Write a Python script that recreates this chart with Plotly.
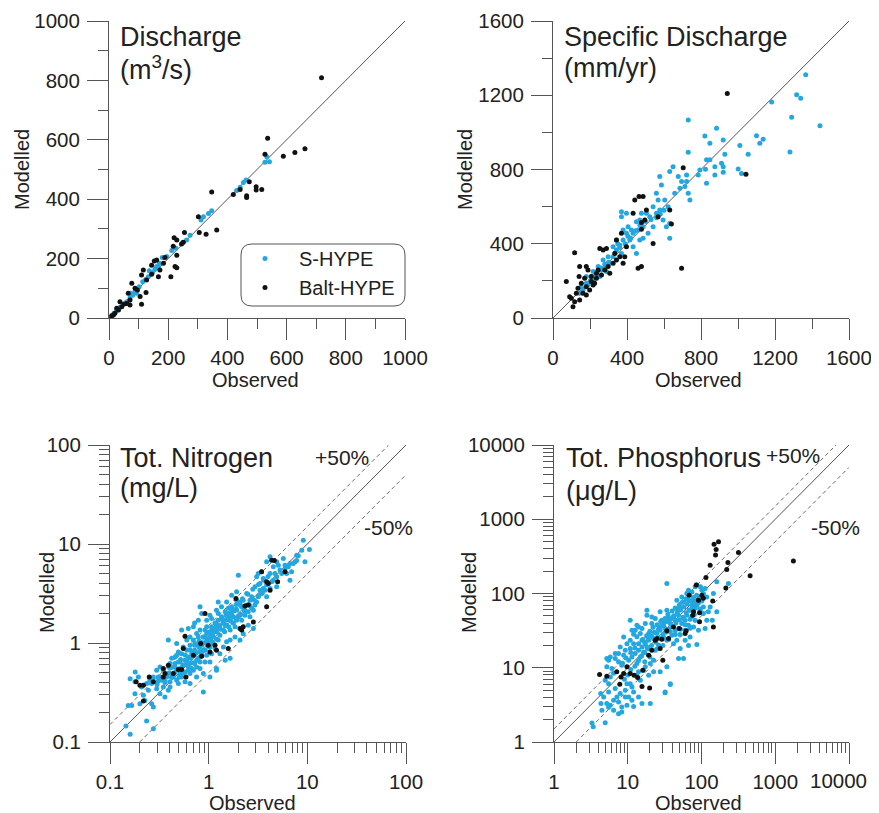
import math
import plotly.graph_objects as go

# ---------------- DATA (observed, modelled) ----------------
q_shype = [(533,543),(542,526),(527,524),(463,465),(454,456),(443,440),(431,429),(347,361),(336,352),
           (319,341),(311,330),(274,279),(262,263),(249,254),(226,235),(212,227),(195,207),(180,204),
           (170,184),(161,173),(155,164),(147,153),(133,139),(124,130),(114,122),(102,105),(88,89),(80,77),
           (71,68),(60,55),(48,46),(37,36),(26,25),(17,16),(10,9),(136,159),(167,173),(73,83),(93,83)]
q_balt = [(718,809),(536,605),(527,551),(589,545),(628,557),(662,570),(347,424),(420,416),(443,433),
          (465,412),(465,406),(474,459),(497,442),(497,431),(516,433),(302,341),(305,288),(328,282),
          (364,296),(255,288),(220,270),(229,263),(245,249),(251,255),(229,211),(223,173),(229,169),
          (209,139),(153,192),(161,195),(184,184),(172,162),(167,139),(116,162),(110,145),(127,128),
          (125,86),(105,72),(110,46),(88,100),(77,117),(65,83),(71,61),(60,49),(43,38),(32,27),(20,16),
          (15,10),(9,7),(37,55),(51,47),(26,33),(71,44),(96,94),(144,147),(189,204),(217,242),(144,178)]

sq_shype = [(1366,1311),(1317,1203),(1339,1184),(1182,1164),(1443,1036),(1290,1081),(1281,894),(731,1067),
            (884,1022),(821,981),(848,941),(920,959),(731,893),(929,882),(1010,929),(1100,982),(1118,941),
            (1136,963),(1055,882),(1001,803),(1019,779),(830,853),(848,853),(824,801),(875,815),(911,833),
            (920,815),(920,785),(875,771),(830,726),(794,797),(785,771),(722,771),(722,735),(713,708),
            (731,672),(740,636),(649,815),(631,789),(577,762),(586,717),(604,636),(622,600),(677,762),
            (695,735),(686,699),(658,672),(559,672),(568,636),(541,600),(505,564),(478,564),(469,528),
            (451,519),(397,564),(370,546),(460,474),(487,492),(523,546),(559,564),(577,582),(595,528),
            (613,492),(631,510),(631,429),(541,492),(514,456),(487,429),(433,456),(415,420),(397,456),
            (379,420),(361,393),(343,366),(325,330),(307,295),(285,277),(262,259),(235,241),(207,223),
            (180,187),(162,151),(144,133),(343,420),(325,384),(370,348),(433,384),(469,420),(451,348),
            (298,330),(271,312),(244,277),(217,250),(253,223),(289,250),(217,205),(180,223),(153,169),
            (379,474),(406,492),(424,474),(370,573),(390,400),(405,440),(420,430),(445,470),(470,500),
            (500,520),(530,530),(560,540),(580,560),(600,580),(360,380),(350,400),(335,350),(300,300),
            (280,290),(260,270),(240,250),(230,230),(200,200),(190,180)]
sq_balt = [(942,1210),(704,810),(1043,774),(695,268),(478,514),(487,654),(465,654),(442,636),(433,564),
           (505,582),(496,528),(541,402),(631,582),(640,506),(568,546),(478,478),(460,268),(478,277),
           (370,456),(343,420),(289,375),(253,375),(271,366),(117,352),(72,196),(99,106),(108,61),(90,115),
           (144,277),(141,223),(180,277),(189,259),(207,223),(235,241),(225,187),(180,169),(162,133),
           (144,97),(126,133),(135,160),(153,187),(171,214),(207,196),(244,259),(262,232),(280,259),
           (298,277),(307,241),(325,295),(343,312),(361,330),(379,295),(388,330),(334,348),(397,384),
           (198,151),(117,88),(180,124),(217,178),(235,214)]

tn_shype = [(0.16,0.12),(0.145,0.145),(0.235,0.163),(0.275,0.136),(0.264,0.244),(0.275,0.226),(0.16,0.436),
            (0.179,0.405),(0.194,0.454),(0.209,0.36),(0.218,0.296),(0.201,0.244),(0.226,0.263),(0.166,0.234),
            (0.179,0.308),(0.245,0.333),(0.264,0.389),(0.297,0.346),(0.321,0.308),(0.347,0.36),(0.361,0.41),
            (0.321,0.454),(0.39,0.491),(0.438,0.454),(0.406,0.405),(0.474,0.42),(0.512,0.491),(0.39,0.333),
            (0.36,0.285),(0.306,0.41),(0.4,0.565),(0.456,0.573),(0.512,0.644),(0.532,0.565),(0.576,0.67),
            (0.647,0.62),(0.622,0.72),(0.7,0.75),(0.532,0.454),(0.647,0.491),(0.7,0.531),(0.576,0.405),
            (0.883,0.32),(0.817,0.552),(0.72,0.62),(0.755,0.67),(0.817,0.72),(0.918,0.644),(1.03,0.644),
            (1.2,0.552),(0.6,0.845),(0.553,0.913),(0.493,0.813),(0.532,1.35),(0.39,1.07),(0.647,1.15),
            (0.726,0.99),(0.81,0.913),(0.817,0.813),(0.918,0.845),(0.99,0.948),(1.03,1.07),(1.07,0.78),
            (1.16,0.879),(1.3,0.78),(1.41,0.913),(1.52,1.03),(1.47,0.67),(1.65,0.7),(1.25,1.07),(1.11,1.15),
            (0.918,1.15),(0.817,1.35),(0.955,1.46),(0.785,1.7),(0.849,1.99),(0.817,2.32),(1.07,1.77),
            (1.2,2.14),(1.25,2.6),(1.11,1.35),(1.2,1.46),(1.41,1.35),(1.52,1.51),(1.65,1.35),(1.85,1.46),
            (1.41,1.7),(1.58,1.99),(1.78,1.84),(1.71,2.32),(1.92,2.14),(2.08,1.91),(2.16,2.32),(1.92,3.29),
            (2.0,4.84),(1.71,3.04),(2.24,2.7),(2.43,3.16),(2.73,2.93),(2.33,2.14),(2.62,1.84),(2.84,2.14),
            (3.06,2.6),(2.95,3.69),(3.31,3.99),(3.06,4.66),(3.58,4.48),(3.72,3.42),(4.19,3.55),(3.87,2.93),
            (4.35,4.15),(4.7,5.04),(5.08,6.11),(4.52,5.9),(5.28,5.45),(5.94,6.11),(6.18,5.04),(5.71,7.14),
            (6.67,6.36),(6.93,5.24),(6.67,4.3),(7.5,6.6),(7.8,7.7),(8.78,8.67),(9.1,10.9),(10.5,8.8),
            (9.46,6.6),(7.8,6.8),(4.19,7.43),(4.89,6.6),(3.87,6.6),(4.19,5.04),(3.44,5.24),(3.18,5.04),
            (1.92,2.7),(1.52,2.6),(2.43,2.42),(2.52,1.51),(2.84,1.4),(2.24,1.24),(2.08,1.07),(1.85,1.15),
            (1.65,1.07),(0.883,0.491),(1.03,0.454),(1.2,0.531),(0.755,1.25),(0.7,1.46),(0.6,1.07),
            (0.474,0.99),(0.456,0.72),(0.406,0.62),(0.347,0.531),(0.321,0.573),(0.297,0.531),(0.275,0.454),
            (0.254,0.42),(0.235,0.389),(0.18,0.51),(0.153,0.234),
            (0.6,0.67),(0.673,0.78),(0.72,0.845),(0.767,0.948),(0.849,1.01),(0.883,1.15),(0.955,1.25),
            (1.03,1.3),(1.07,1.46),(1.16,1.59),(1.25,1.7),(1.35,1.84),(1.47,2.07),(1.58,2.24),(1.65,1.7),
            (1.78,1.59),(1.92,1.7),(2.0,1.84),(2.16,1.7),(2.33,1.91),(2.52,2.07),(2.73,2.24),(2.95,2.42),
            (3.18,2.93),(3.44,3.16),(3.58,3.55),(3.87,3.87),(4.52,4.3),(4.89,4.66),(5.5,5.04),(5.94,5.65),
            (6.41,5.89),(7.2,6.36),(8.1,7.6),(4.89,3.7),(3.31,3.42),(2.62,2.7),(2.08,2.6),(1.71,2.07),
            (1.47,1.51),(1.3,1.4),(1.2,1.3),(1.11,0.99),(1.03,0.913),(0.955,0.75),(0.883,0.845),(0.817,0.644),
            (0.755,0.573),(0.673,0.552),(0.622,0.531),(0.576,0.51),(0.493,0.644),(0.456,0.62),(0.42,0.565),
            (0.422,0.7),(0.474,0.75),(0.532,0.78),(0.647,0.948),(0.7,1.07),(0.622,1.4),(0.72,1.59),
            (0.955,1.7),(1.03,1.91),(1.35,2.32),(1.25,1.99),(0.918,1.35),(0.785,1.15),(0.406,0.36),
            (0.474,0.531),(0.375,0.454),(0.309,0.454),(0.493,0.389),(0.755,0.454),(0.647,0.389),
            (0.45,0.5),(0.5,0.55),(0.55,0.6),(0.6,0.62),(0.65,0.7),(0.7,0.78),(0.75,0.8),(0.8,0.9),
            (0.85,0.95),(0.9,1.0),(0.95,1.05),(1.0,1.12),(1.05,1.2),(1.1,1.25),(1.2,1.35),(1.3,1.5),
            (1.4,1.6),(1.5,1.7),(1.6,1.85),(1.7,1.95),(1.8,2.1),(1.9,2.2),(2.1,2.4),(0.5,0.45),(0.55,0.5),
            (0.62,0.58),(0.7,0.63),(0.78,0.7),(0.85,0.78),(0.92,0.85),(1.0,0.92),(1.1,1.02),(1.2,1.1),
            (1.3,1.2),(1.45,1.3),(1.6,1.45),(1.75,1.6),(1.9,1.75),(2.1,1.95),(2.3,2.1),(2.6,2.4),(2.9,2.7),
            (3.2,3.0),(3.5,3.2),(0.4,0.5),(0.45,0.58),(0.52,0.68),(0.58,0.75),(0.65,0.85),(0.72,0.95),
            (0.8,1.05),(0.88,1.15),(0.98,1.28),(1.08,1.4),(1.2,1.55),(1.35,1.75),(1.5,1.9),(1.7,2.2),
            (1.9,2.45),(2.2,2.8),(2.5,3.1),(2.8,3.5),(3.2,3.9),(3.6,4.3),(4.0,4.7),(0.3,0.38),(0.33,0.42),
            (0.36,0.4),(0.42,0.45)]
tn_balt = [(0.184,0.405),(0.201,0.374),(0.218,0.374),(0.218,0.26),(0.25,0.454),(0.275,0.405),(0.347,0.552),
           (0.361,0.491),(0.347,0.454),(0.39,0.596),(0.438,0.491),(0.493,0.539),(0.532,0.539),(0.576,1.17),
           (0.553,0.879),(0.589,0.454),(0.7,0.75),(0.83,0.99),(0.849,0.735),(0.99,0.948),(1.03,0.813),
           (1.2,0.845),(1.16,0.948),(1.58,0.879),(0.918,1.99),(1.89,2.82),(2.33,2.36),(2.52,2.42),(2.08,1.4),
           (2.16,1.35),(2.24,1.46),(2.84,1.63),(3.44,5.24),(3.87,2.32),(4.19,3.42),(4.03,3.99),(3.87,4.15),
           (4.35,6.87),(4.62,6.8),(5.0,4.15),(5.94,5.24)]

tp_shype = [(3.27,1.8),(3.4,1.6),(4.95,1.82),(4.33,3.29),(5.2,3.3),(5.8,3.12),(4.71,4.04),(5.5,4.72),
            (6.43,3.65),(7.13,4.04),(7.5,3.46),(8.3,2.96),(9.75,3.12),(10.3,4.04),(11.4,3.65),(12,4.72),
            (14,4.04),(20.2,3.29),(32.2,4.72),(37.7,5.93),(5.5,6.1),(4.95,6.78),(5.8,7.5),(6.43,8.4),
            (6.1,9.75),(5.2,10.3),(5.5,12.6),(6.76,13.3),(7.5,12),(8.3,10.8),(8.8,14.7),(7.5,15.5),(9.25,17.2),
            (10.8,18.1),(10.8,23.4),(12,21),(13.3,26.1),(10.8,43.7),(12.6,32),(15.6,33.7),(14.8,29),
            (17.3,39.4),(18.2,51),(19.2,23.4),(18.2,19),(16.4,16.3),(14.8,14),(13.3,11.4),(17.3,10.3),
            (20.2,11.4),(22.4,12.6),(23.6,17.2),(26.2,20.1),(24.9,28.9),(21.2,39.4),(23.6,46),(27.5,56.6),
            (29,43.6),(33.9,59.6),(35.7,48.4),(37.7,39.4),(32.2,33.7),(30.5,26),(33.9,23.5),(39.6,27.4),
            (41.7,21),(46.3,23.5),(43.9,31.6),(48.8,33.7),(43.9,43.6),(48.8,51),(54,39.4),(57,46),(51,28),
            (60,32),(66.7,37.4),(63.5,51),(70.2,59.6),(74,69.6),(66.7,81),(78,81),(63.2,100),(66.7,111),
            (74,105),(82,123),(86.5,130),(97,123),(101,111),(106,100),(112,117),(118,90),(97,86),(86.5,70),
            (96,59.6),(106,53.7),(124,56.6),(131,66),(118,43.6),(112,33.7),(91,32),(78,35.5),(82,43.6),
            (70,26),(60,23.5),(51.4,18.1),(66.7,20),(86.5,20.5),(48.8,13.3),(57,13.3),(33.9,10.3),(37.7,6.1),
            (32,4.6),(232,136),(161,144),(161,56.6),(145,100),(33.9,136),(21.2,48.4),(18.2,59.6),(14,35.5),
            (12,28.3),(9.75,21),(8.8,26),(7.9,19),(6.76,15.5),(5.8,14),(5.2,13.3),(11.4,32),(13.3,37.4),
            (15.6,23.4),(17.3,21),(19.2,28.9),(22.4,24.7),(27.5,32),(30.5,37.4),(37.7,30.5),(41.7,48.4),
            (46.3,62),(51,66),(57,77),(54,90),(46.3,81),(74,49),(82,64),(91,75),(101,79),(106,66),(140,43.6),
            (70,34),(60,43.6),(13.3,7.9),(14.8,6.8),(10.8,6.1),(9.25,4.97),(7.9,4.5),(6.76,5.25),(4.3,4.5),
            (4.47,2.67),(5.5,2.94),(6.43,2.67),(7.5,2.41),(8.3,2.54),(9.25,4.04),(12,3.0),(15.6,3.3),
            (9.75,6.1),(11.4,5.5),(14,8.8),(19.2,7.9),(22.4,8.8),(27.5,8.8),(16.4,9.25),
            (10.3,12.6),(11.4,14),(12.6,15.5),(14,17.2),(15.6,19.1),(17,22),(19,25),(21,27),(23,30),(26,33),
            (28,36),(31,40),(34,42),(38,45),(42,50),(47,55),(52,60),(58,66),(64,72),(71,80),(78,88),(86,95),
            (11,9.5),(12.5,10.5),(14,12.5),(15.5,14.5),(17,16),(19,18),(21,20),(24,22),(27,25),(30,28),
            (33,30),(36,33),(40,36),(45,40),(50,44),(56,48),(62,55),(68,60),(75,66),(83,73),(92,80),
            (8.5,11.5),(9.5,13.5),(11,16),(12.5,18.5),(14,21),(16,24),(18,27),(20,31),(22,35),(25,38),
            (28,42),(32,46),(35,52),(40,58),(44,64),(50,70),(55,76),(62,85),(9,7),(10,8),(17,12),(20,14),
            (25,18),(30,20),(36,24),(44,28),(52,33),(60,38),(70,45),(80,52),(95,62)]
tp_balt = [(148,462),(170,497),(158,392),(155,329),(317,357),(228,262),(220,211),(131,241),(1762,273),
           (456,173),(214,119),(115,164),(85,130),(68,95),(101,95),(106,86),(91,81),(142,79),(145,35.5),
           (94,41.5),(94,55),(78,57),(76,51),(60,28.9),(62,31.4),(50,33.7),(41.7,35.5),(33.9,31.4),
           (35.7,24.7),(29,24.2),(24.9,24.7),(23.6,23.5),(27.5,18.1),(29.9,12.6),(19.2,14.7),(21.2,17.2),
           (16,9.25),(12.2,7.9),(10.8,8.35),(8.8,8.35),(8.1,7.5),(7.1,8.8),(5.2,7.7),(4.15,8.1),(7.8,6.0),
           (15.6,5.6),(19.8,5.35),(9.75,10.3),(13.6,7.4)]

series_names = ["S-HYPE", "Balt-HYPE"]
panel_titles = [("Discharge", "(m<sup>3</sup>/s)"), ("Specific Discharge", "(mm/yr)"),
                ("Tot. Nitrogen", "(mg/L)"), ("Tot. Phosphorus", "(\u03bcg/L)")]
lin_ranges = [(0, 1000), (0, 1600)]
log_ranges = [(0.1, 100), (1, 10000)]
tp_x_ticks = [1, 10, 100, 1000, 10000]
tp_x_labels = ["1", "10", "100", "1000", "10000"]
band_factors = [1.5, 0.5]
band_labels = ["+50%", "-50%"]

# ---------------- STYLE ----------------
OFF = 8                      # page body margin offset
W, H = 879 - OFF, 813 - OFF
CYAN = "#22A7E0"
BLACK = "#111111"
AX = "#555555"
FONT = "Liberation Sans, Arial, sans-serif"
TICKSIZE = 20.5

def px(x):
    return (x - OFF) / W

def py(y):
    return 1 - (y - OFF) / H

fig = go.Figure()

panels = [
    dict(x=(109, 405), y=(21, 318)),
    dict(x=(553, 849), y=(21, 318)),
    dict(x=(110, 406), y=(445, 742)),
    dict(x=(554, 849), y=(445, 742)),
]
datasets = [(q_shype, q_balt), (sq_shype, sq_balt), (tn_shype, tn_balt), (tp_shype, tp_balt)]

for i, (shy, bal) in enumerate(datasets):
    k = i + 1
    xa = "x" if k == 1 else f"x{k}"
    ya = "y" if k == 1 else f"y{k}"
    if i < 2:
        lo, hi = lin_ranges[i]
    else:
        lo, hi = log_ranges[i - 2]
    fig.add_trace(go.Scatter(x=[lo, hi], y=[lo, hi], mode="lines", xaxis=xa, yaxis=ya,
                             line=dict(color="#555555", width=1), showlegend=False, hoverinfo="skip"))
    if i >= 2:
        for f in band_factors:
            xs = [lo, hi / f] if f > 1 else [lo / f, hi]
            fig.add_trace(go.Scatter(x=xs, y=[v * f for v in xs], mode="lines", xaxis=xa, yaxis=ya,
                                     line=dict(color="#6a6a6a", width=1, dash="4px,3px"),
                                     showlegend=False, hoverinfo="skip"))
    for name, pts, col in [(series_names[0], shy, CYAN), (series_names[1], bal, BLACK)]:
        fig.add_trace(go.Scatter(x=[p[0] for p in pts], y=[p[1] for p in pts], mode="markers",
                                 xaxis=xa, yaxis=ya, name=name, legendgroup=name,
                                 showlegend=(i == 0), cliponaxis=False,
                                 marker=dict(color=col, size=5, line=dict(width=0))))

tickfont = dict(family=FONT, size=TICKSIZE, color="#222222")
common = dict(showline=True, linecolor=AX, linewidth=1, ticks="outside", tickcolor=AX, tickwidth=1,
              ticklen=21, showgrid=False, zeroline=False, tickfont=tickfont, fixedrange=True,
              automargin=False, ticklabeloverflow="allow")

layout = dict(width=W, height=H, margin=dict(l=0, r=0, t=0, b=0, autoexpand=False),
              paper_bgcolor="white", plot_bgcolor="white", showlegend=True)
for i, p in enumerate(panels):
    k = i + 1
    xk = "xaxis" if k == 1 else f"xaxis{k}"
    yk = "yaxis" if k == 1 else f"yaxis{k}"
    xa = "x" if k == 1 else f"x{k}"
    ya = "y" if k == 1 else f"y{k}"
    xd = [px(p["x"][0]), px(p["x"][1])]
    yd = [py(p["y"][1]), py(p["y"][0])]
    if i < 2:
        lo, hi = lin_ranges[i]
        step = 200 if i == 0 else 400
        ax = dict(common, type="linear", range=[lo, hi], dtick=step, tick0=0,
                  minor=dict(dtick=step / 2, ticks="outside", ticklen=10, tickcolor=AX, showgrid=False))
    else:
        lo, hi = log_ranges[i - 2]
        ax = dict(common, type="log", range=[math.log10(lo), math.log10(hi)], dtick=1, tickformat="~g",
                  minor=dict(dtick="D1", ticks="outside", ticklen=10, tickcolor=AX, showgrid=False))
    layout[xk] = dict(ax, domain=xd, anchor=ya, ticklabelstandoff=0)
    layout[yk] = dict(ax, domain=yd, anchor=xa, ticklabelstandoff=3)

# last x label of the phosphorus panel is drawn as an annotation so it stays inside the page
layout["xaxis4"]["tickmode"] = "array"
layout["xaxis4"]["tickvals"] = tp_x_ticks
layout["xaxis4"]["ticktext"] = tp_x_labels[:-1] + [""]

fig.update_layout(**layout)

ann = []
def text(x, y, s, size, xanchor="center", angle=0):
    ann.append(dict(x=px(x), y=py(y), xref="paper", yref="paper", text=s, showarrow=False,
                    xanchor=xanchor, yanchor="middle", textangle=angle,
                    font=dict(family=FONT, size=size, color="#222222")))

title_pos = [(118, 37, 68), (562, 37, 68), (118, 458, 488), (564, 458, 491)]
for (t1, t2), (x, y1, y2) in zip(panel_titles, title_pos):
    text(x, y1, t1, 27, "left")
    text(x, y2, t2, 27, "left")

for (x, y) in [(22, 170), (465, 170), (47, 593), (469, 593)]:
    text(x, y, "Modelled", 20, angle=-90)
for (x, y) in [(255, 380), (698, 380), (253, 803), (698, 803)]:
    text(x, y, "Observed", 20)
for (x, y, s) in [(342, 457, band_labels[0]), (388, 527, band_labels[1]),
                  (793, 455, band_labels[0]), (835, 527, band_labels[1])]:
    text(x, y, s, 21)
# "10000" under the phosphorus x axis
text(869, 780, tp_x_labels[-1], TICKSIZE, "right")

# rounded legend box
x0, x1, y0, y1, r = 241, 405, 244, 306, 11
path = (f"M {px(x0+r)},{py(y0)} L {px(x1-r)},{py(y0)} Q {px(x1)},{py(y0)} {px(x1)},{py(y0+r)} "
        f"L {px(x1)},{py(y1-r)} Q {px(x1)},{py(y1)} {px(x1-r)},{py(y1)} "
        f"L {px(x0+r)},{py(y1)} Q {px(x0)},{py(y1)} {px(x0)},{py(y1-r)} "
        f"L {px(x0)},{py(y0+r)} Q {px(x0)},{py(y0)} {px(x0+r)},{py(y0)} Z")
fig.update_layout(
    annotations=ann,
    shapes=[dict(type="path", path=path, xref="paper", yref="paper", line=dict(color="#555555", width=1))],
    legend=dict(x=px(231), y=py(239), xanchor="left", yanchor="top", bgcolor="rgba(0,0,0,0)",
                borderwidth=0, font=dict(family=FONT, size=20, color="#222222"), itemwidth=58,
                tracegroupgap=0),
)

fig.write_html("out.html")
